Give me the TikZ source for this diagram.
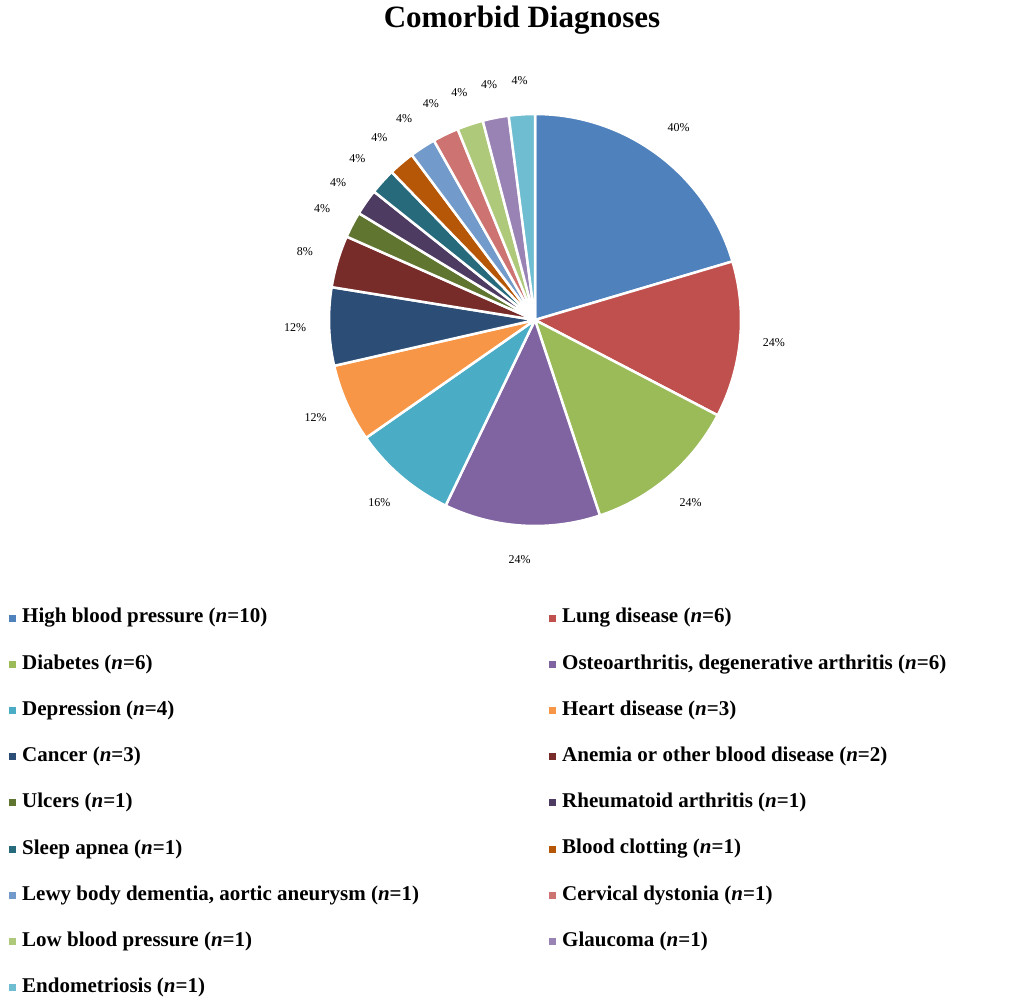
\documentclass[tikz,border=0pt]{standalone}
\usepackage{fontspec}
\setmainfont{Liberation Serif}
\usetikzlibrary{calc}
\definecolor{c1}{HTML}{4F81BD}
\definecolor{c2}{HTML}{C0504D}
\definecolor{c3}{HTML}{9BBB59}
\definecolor{c4}{HTML}{8064A2}
\definecolor{c5}{HTML}{4BACC6}
\definecolor{c6}{HTML}{F79646}
\definecolor{c7}{HTML}{2C4D75}
\definecolor{c8}{HTML}{772C2A}
\definecolor{c9}{HTML}{5F7530}
\definecolor{c10}{HTML}{4D3B62}
\definecolor{c11}{HTML}{276A7C}
\definecolor{c12}{HTML}{B65708}
\definecolor{c13}{HTML}{729ACA}
\definecolor{c14}{HTML}{CD7371}
\definecolor{c15}{HTML}{AFC97A}
\definecolor{c16}{HTML}{9983B5}
\definecolor{c17}{HTML}{6FBDD1}
\tikzset{
  slice/.style={draw=white, line width=2.5pt, line join=round},
  pct/.style={font=\fontsize{12}{12}\selectfont},
  entry/.style={anchor=west, font=\bfseries\fontsize{21}{21}\selectfont, inner sep=0pt},
  swatch/.style={minimum size=7pt, inner sep=0pt}
}
\begin{document}
\begin{tikzpicture}[x=1pt,y=1pt]
\useasboundingbox (0,0) rectangle (1024,-1006);
\node (title) at (522,-20) {\bfseries\fontsize{31}{31}\selectfont Comorbid Diagnoses};
\coordinate (C) at (535,-320);
% pie slices
\def\s{90}
\foreach \v/\p [count=\i] in {10/40,6/24,6/24,6/24,4/16,3/12,3/12,2/8,1/4,1/4,1/4,1/4,1/4,1/4,1/4,1/4,1/4}{
  \pgfmathsetmacro\e{\s-\v*360/49}
  \pgfmathsetmacro\m{(\s+\e)/2}
  \fill[c\i, slice] (C) -- ($(C)+(\s:206)$) arc[start angle=\s, end angle=\e, radius=206] -- cycle;
  \node[pct] (l\i) at ($(C)+(\m:240)$) {\p\%};
  \xdef\s{\e}
}
% legend
\foreach \t [count=\i] in {
  {High blood pressure (\textit{n}=10)}, {Lung disease (\textit{n}=6)},
  {Diabetes (\textit{n}=6)}, {Osteoarthritis, degenerative arthritis (\textit{n}=6)},
  {Depression (\textit{n}=4)}, {Heart disease (\textit{n}=3)},
  {Cancer (\textit{n}=3)}, {Anemia or other blood disease (\textit{n}=2)},
  {Ulcers (\textit{n}=1)}, {Rheumatoid arthritis (\textit{n}=1)},
  {Sleep apnea (\textit{n}=1)}, {Blood clotting (\textit{n}=1)},
  {Lewy body dementia, aortic aneurysm (\textit{n}=1)}, {Cervical dystonia (\textit{n}=1)},
  {Low blood pressure (\textit{n}=1)}, {Glaucoma (\textit{n}=1)},
  {Endometriosis (\textit{n}=1)}}{
  \pgfmathsetmacro\cx{mod(\i-1,2)==0 ? 12 : 552}
  \pgfmathsetmacro\ry{-618-46.2*int((\i-1)/2)}
  \node[swatch, fill=c\i] (s\i) at (\cx,\ry) {};
  \node[entry] (e\i) at ($(s\i)+(10,0)$) {\t};
}
\end{tikzpicture}
\end{document}
